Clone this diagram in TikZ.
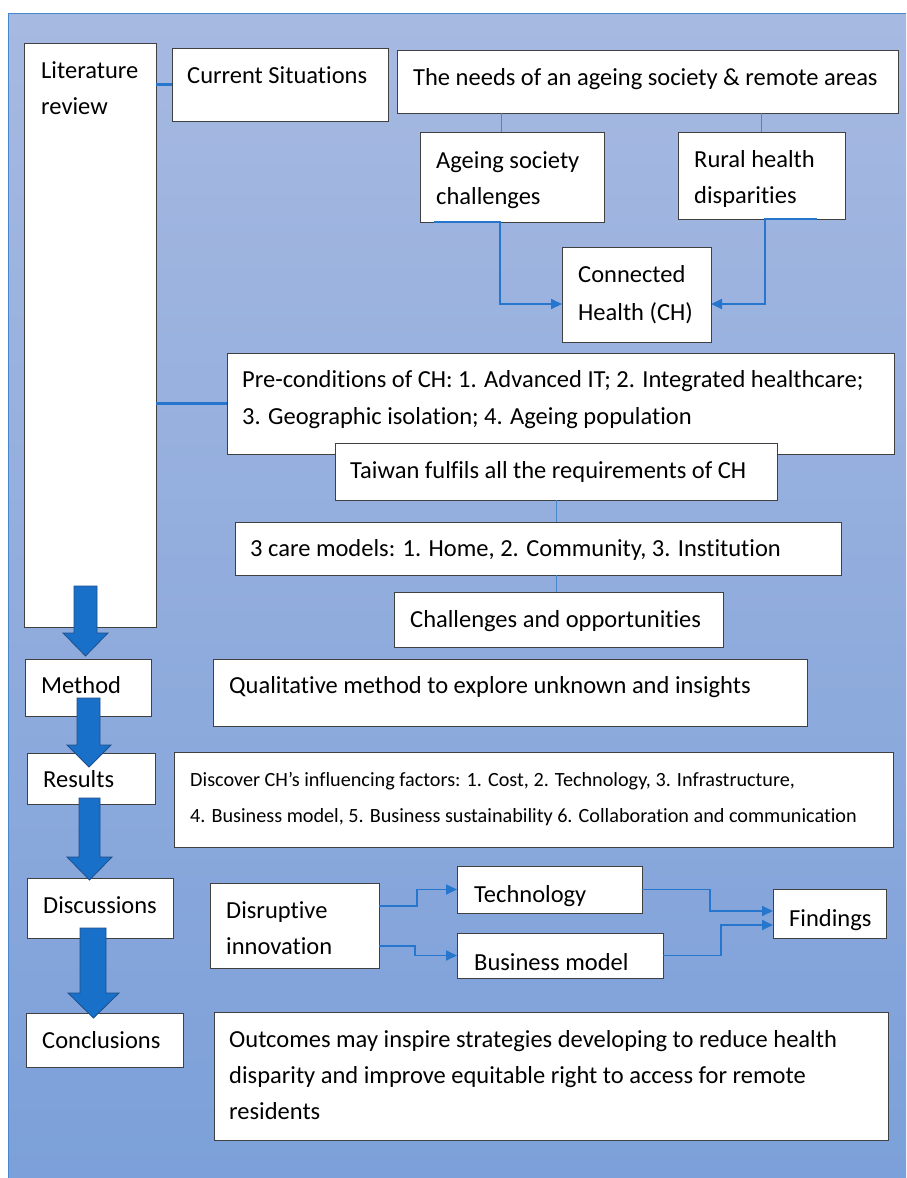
\documentclass[tikz,border=0pt]{standalone}
\usepackage{fontspec}
\setmainfont{Carlito}[Ligatures=NoCommon]
\usetikzlibrary{arrows.meta}
\definecolor{bgtop}{RGB}{166,185,225}
\definecolor{bgbot}{RGB}{124,160,217}
\definecolor{conn}{RGB}{38,118,205}
\definecolor{thinblue}{RGB}{70,135,205}
\definecolor{blk}{RGB}{24,112,200}
\definecolor{blkedge}{RGB}{30,78,140}
\newcommand\mlines[1]{\begin{tabular}[t]{@{}l@{}}#1\end{tabular}}
\newcommand\mybox[5]{\node[box, minimum width={#4pt-#2pt}, minimum height={#5pt-#3pt}] (#1) at ({(#2+#4)/2},{(#3+#5)/2}) {};}
\begin{document}
\begin{tikzpicture}[x=1pt,y=-1pt,
  box/.style={draw=black!75, fill=white, line width=0.9pt, inner sep=0pt, outer sep=0pt},
  txt/.style={anchor=base west, inner sep=0pt, font=\fontsize{24.5}{36}\selectfont},
  sm/.style={anchor=base west, inner sep=0pt, font=\fontsize{20.2}{36}\selectfont},
  link/.style={draw=conn, line width=2.2pt},
  elbow/.style={draw=conn, line width=1.8pt, -{Triangle[length=11pt,width=10pt]}},
  tickline/.style={draw=thinblue, line width=1pt},
  blockarrow/.style={fill=blk, draw=blkedge, line width=0.8pt, line join=miter}]
\useasboundingbox (0,0) rectangle (906,1178);
\fill[white] (0,0) rectangle (906,1178);
\shade[top color=bgtop, bottom color=bgbot] (8,13) rectangle (906,1178);
\draw[thinblue, line width=0.8pt] (8,1178) -- (8,13) -- (906,13);

% boxes
\mybox{lit}{24}{43}{156}{627}
\mybox{cur}{172}{48}{388}{121}
\mybox{needs}{397}{50}{898}{113}
\mybox{age}{420}{132}{604}{222}
\mybox{rural}{678}{132}{845}{219}
\mybox{ch}{562}{247}{711}{342}
\mybox{pre}{227}{353}{894}{454}
\mybox{tw}{335}{443}{777}{500}
\mybox{care}{235}{522}{841}{575}
\mybox{chal}{394}{592}{723}{647}
\mybox{meth}{25}{659}{151}{716}
\mybox{qual}{213}{659}{807}{726}
\mybox{res}{27}{753}{155}{804}
\mybox{disc}{174}{752}{893}{847}
\mybox{dis}{27}{878}{173}{938}
\mybox{dinn}{210}{883}{379}{968}
\mybox{tech}{457}{866}{642}{913}
\mybox{bm}{457}{933}{663}{978}
\mybox{find}{773}{889}{886}{938}
\mybox{conc}{26}{1013}{183}{1067}
\mybox{out}{214}{1012}{888}{1140}

% texts
\node[txt] (litT) at (41,78) {\mlines{Literature\\review}};
\node[txt] (curT) at (187,83) {Current Situations};
\node[txt] (needsT) at (413,85) {The needs of an ageing society \& remote areas};
\node[txt] (ageT) at (436,168) {\mlines{Ageing society\\challenges}};
\node[txt] (ruralT) at (694,167) {\mlines{Rural health\\disparities}};
\node[txt] (chT) at (578,282) {\mlines{Connected\\[2pt]Health (CH)}};
\node[txt] (preT) at (242,387) {\mlines{Pre-conditions of CH: 1. Advanced IT; 2. Integrated healthcare;\\[1pt]3. Geographic isolation; 4. Ageing population}};
\node[txt] (twT) at (350,478) {Taiwan fulfils all the requirements of CH};
\node[txt] (careT) at (250,556) {3 care models: 1. Home, 2. Community, 3. Institution};
\node[txt] (chalT) at (410,627) {Challenges and opportunities};
\node[txt] (methT) at (41,693) {Method};
\node[txt] (qualT) at (229,693) {Qualitative method to explore unknown and insights};
\node[txt] (resT) at (43,787) {Results};
\node[sm] (discT) at (190,786) {\mlines{Discover CH’s influencing factors: 1. Cost, 2. Technology, 3. Infrastructure,\\4. Business model, 5. Business sustainability 6. Collaboration and communication}};
\node[txt] (disT) at (43,913) {Discussions};
\node[txt] (dinnT) at (226,918) {\mlines{Disruptive\\innovation}};
\node[txt] (techT) at (474,902) {Technology};
\node[txt] (bmT) at (474,970) {Business model};
\node[txt] (findT) at (789,926) {Findings};
\node[txt] (concT) at (42,1048) {Conclusions};
\node[txt] (outT) at (229,1047) {\mlines{Outcomes may inspire strategies developing to reduce health\\disparity and improve equitable right to access for remote\\residents}};

% helper coordinates
\coordinate (x501) at (501,0);
\coordinate (x761) at (761,0);
\coordinate (x556) at (556,0);
\coordinate (a1) at (434,222);
\coordinate (a2) at (500,222);
\coordinate (r1) at (817,219);
\coordinate (r2) at (765,219);

% connectors
\draw[link] (lit.east |- cur.west) -- (cur.west);
\draw[link] (lit.east |- pre.west) -- (pre.west);
\draw[tickline] (needs.south -| x501) -- (age.north -| x501);
\draw[tickline] (needs.south -| x761) -- (rural.north -| x761);
\draw[tickline] (tw.south -| x556) -- (care.north -| x556);
\draw[tickline] (care.south -| x556) -- (chal.north -| x556);
\draw[elbow] (a1) -- (a2) |- ([yshift=-9.5pt]ch.west);
\draw[elbow] (r1) -- (r2) |- ([yshift=-9.5pt]ch.east);
\draw[elbow] ([yshift=19.5pt]dinn.east) -- ++(38,0) |- (tech.west);
\draw[elbow] ([yshift=-20.5pt]dinn.east) -- ++(36,0) |- (bm.west);
\draw[elbow] (tech.east) -- ++(68,0) |- ([yshift=2.5pt]find.west);
\draw[elbow] (bm.east) -- ++(58,0) |- ([yshift=-11.5pt]find.west);

% block arrows
\draw[blockarrow] (74,586) -- (97,586) -- (97,633) -- (108,633) -- (85.5,656) -- (63,633) -- (74,633) -- cycle;
\draw[blockarrow] (77,698) -- (100,698) -- (100,745) -- (111,745) -- (89,767) -- (67,745) -- (77,745) -- cycle;
\draw[blockarrow] (79,798) -- (100,798) -- (100,857) -- (112,857) -- (89.5,880) -- (67,857) -- (79,857) -- cycle;
\draw[blockarrow] (80,928) -- (106,928) -- (106,993) -- (119,993) -- (93.5,1018) -- (68,993) -- (80,993) -- cycle;
\end{tikzpicture}
\end{document}
